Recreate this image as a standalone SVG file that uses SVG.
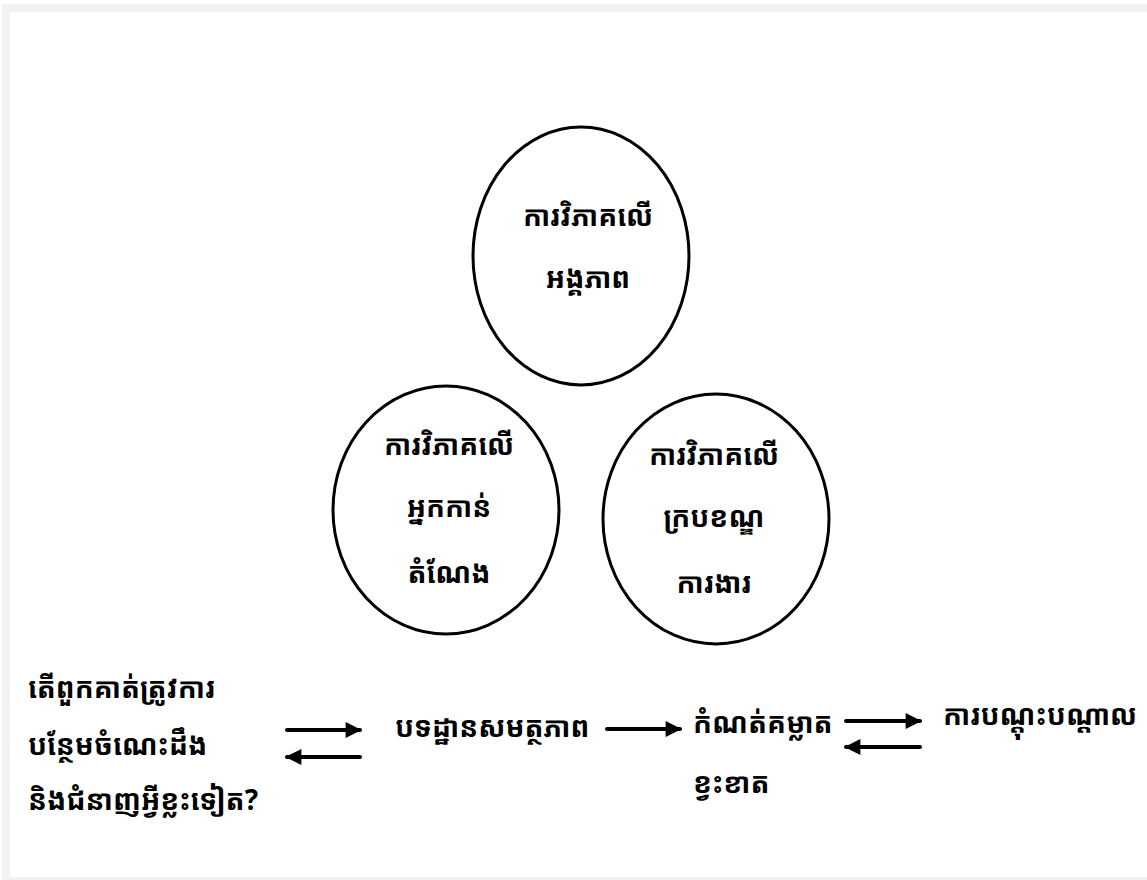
<svg xmlns="http://www.w3.org/2000/svg" width="1147" height="880" viewBox="0 0 1147 880">
<defs>
<style>
.t{font-family:"Noto Sans Khmer","Khmer OS","Noto Serif Khmer","Noto Sans","DejaVu Sans",sans-serif;font-weight:bold;font-size:28px;fill:#000}
.c{fill:#fff;stroke:#000;stroke-width:3}
.a{stroke:#000;stroke-width:4;fill:none;stroke-linecap:round}
</style>
<marker id="ah" viewBox="0 0 10 10" refX="9" refY="5" markerWidth="4.5" markerHeight="4" markerUnits="strokeWidth" orient="auto">
<path d="M0,0 L10,5 L0,10 z" fill="#000"/>
</marker>
</defs>
<rect x="0" y="0" width="1147" height="880" fill="#fff"/>
<rect x="2" y="4" width="1145" height="876" fill="#f2f2f2"/>
<rect x="10" y="12" width="1137" height="865" fill="#fff"/>
<g id="n-top">
<ellipse class="c" cx="581" cy="256" rx="108" ry="129"/>
<text class="t" x="588" y="226" text-anchor="middle">ការវិភាគលើ</text>
<text class="t" x="588" y="288" text-anchor="middle">អង្គភាព</text>
</g>
<g id="n-left">
<ellipse class="c" cx="446" cy="510" rx="113" ry="124"/>
<text class="t" x="449" y="455" text-anchor="middle">ការវិភាគលើ</text>
<text class="t" x="449" y="517" text-anchor="middle">អ្នកកាន់</text>
<text class="t" x="449" y="583" text-anchor="middle">តំណែង</text>
</g>
<g id="n-right">
<ellipse class="c" cx="716" cy="519" rx="113" ry="125"/>
<text class="t" x="714" y="465" text-anchor="middle">ការវិភាគលើ</text>
<text class="t" x="714" y="527" text-anchor="middle">ក្របខណ្ឌ</text>
<text class="t" x="714" y="593" text-anchor="middle">ការងារ</text>
</g>
<g id="n-question">
<text class="t" x="28" y="698">តើពួកគាត់ត្រូវការ</text>
<text class="t" x="28" y="755">បន្ថែមចំណេះដឹង</text>
<text class="t" x="28" y="810">និងជំនាញអ្វីខ្លះទៀត?</text>
</g>
<g id="n-standard">
<text class="t" x="395" y="737">បទដ្ឋានសមត្ថភាព</text>
</g>
<g id="n-gap">
<text class="t" x="693" y="733">កំណត់គម្លាត</text>
<text class="t" x="693" y="793">ខ្វះខាត</text>
</g>
<g id="n-training">
<text class="t" x="943" y="725">ការបណ្ដុះបណ្ដាល</text>
</g>
<g id="connectors">
<line class="a" x1="287" y1="730" x2="360" y2="730" marker-end="url(#ah)"/>
<line class="a" x1="360" y1="757" x2="287" y2="757" marker-end="url(#ah)"/>
<line class="a" x1="607" y1="729" x2="680" y2="729" marker-end="url(#ah)"/>
<line class="a" x1="846" y1="721" x2="920" y2="721" marker-end="url(#ah)"/>
<line class="a" x1="920" y1="747" x2="846" y2="747" marker-end="url(#ah)"/>
</g>
</svg>
